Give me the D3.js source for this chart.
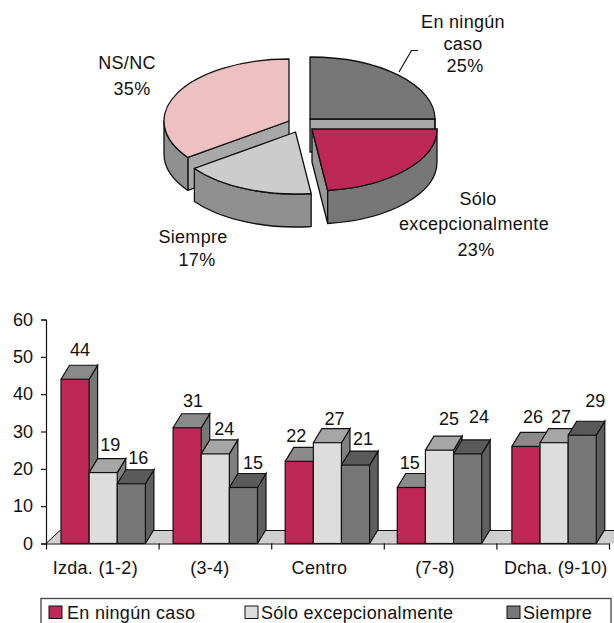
<!DOCTYPE html>
<html><head><meta charset="utf-8">
<script src="https://cdn.jsdelivr.net/npm/d3@7"></script>
<style>html,body{margin:0;padding:0;background:#fff}svg{display:block}text{font-family:"Liberation Sans",Arial,sans-serif;fill:#111}</style>
</head><body><svg id="c" width="614" height="623"></svg>
<script>
// pie data
const pieLabels = ["En ningún caso","Sólo excepcionalmente","Siempre","NS/NC"];
const pieValues = [25,23,17,35];
// bar data
const categories = ["Izda. (1-2)","(3-4)","Centro","(7-8)","Dcha. (9-10)"];
const seriesNames = ["En ningún caso","Sólo excepcionalmente","Siempre"];
const enNingunCaso = [44,31,22,15,26];
const soloExcepcionalmente = [19,24,27,25,27];
const siempre = [16,15,21,24,29];
const yTicks = [0,10,20,30,40,50,60];

// styles & layout
const pieStyle = [
  {c:[310,119],top:"#777777",wall:"#777777",face:"#a8a8a8"},
  {c:[312,129],top:"#bf2758",wall:"#777777",face:"#999999"},
  {c:[295.5,132],top:"#cccccc",wall:"#909090",face:"#a8a8a8"},
  {c:[289,121],top:"#edc1c1",wall:"#909090",face:"#a8a8a8"}
];
const pieText = [
  {l:["En ningún","caso","25%"],x:[463,463,465],y:[22,44,66]},
  {l:["Sólo","excepcionalmente","23%"],x:[478,474,476],y:[199,224,250]},
  {l:["Siempre","17%"],x:[193,197],y:[237,260]},
  {l:["NS/NC","35%"],x:[127,132],y:[63,89]}
];
const barStyle = [
  {front:"#bf2758",top:"#8a8a8a",side:"#777777"},
  {front:"#dddddd",top:"#a6a6a6",side:"#808080"},
  {front:"#777777",top:"#5a5a5a",side:"#5f5f5f"}
];
const labelNudge = [
  [[5,-30],[7,-27.6],[7,-26]],
  [[5.4,-27],[8.4,-25],[9,-25]],
  [[-4,-26],[6,-24],[6.5,-26]],
  [[-3,-25],[8,-31],[10,-37]],
  [[7.6,-30],[7.3,-26],[13.6,-35]]
];
const catNudge = [-7,-5,-8,-5,3];
const groupNudge = [0,-0.5,-1,-1.5,0.5];

const svg = d3.select("#c");
const FS = 18, LS = "0.3px";
const rx=125, ry=62, depth=33;
const stroke="#111";

// ---- PIE ----
const arcs = d3.pie().sort(null).value(d=>d)(pieValues);
const P = (c,a,dy=0)=>[c[0]+rx*Math.sin(a), c[1]-ry*Math.cos(a)+dy];
const gPie = svg.append("g");
const drawOrder=[3,0,1,2];
drawOrder.forEach(i=>{
  const a=arcs[i], s=pieStyle[i], c=s.c;
  const st=a.startAngle, en=a.endAngle;
  [[st,st-Math.PI/2],[en,en+Math.PI/2]].forEach(([th,n])=>{
    if(Math.cos(n)<-1e-6){
      const r=P(c,th), c2=[c[0],c[1]+depth], r2=[r[0],r[1]+depth];
      gPie.append("path").attr("d",`M${c}L${r}L${r2}L${c2}Z`)
        .attr("fill",s.face).attr("stroke",stroke).attr("stroke-width",1.3).attr("stroke-linejoin","round");
    }
  });
  const a0=Math.max(st,Math.PI/2), a1=Math.min(en,3*Math.PI/2);
  if(a1>a0){
    const p0=P(c,a0),p1=P(c,a1),p2=P(c,a1,depth),p3=P(c,a0,depth);
    gPie.append("path").attr("d",`M${p0}A${rx} ${ry} 0 0 1 ${p1}L${p2}A${rx} ${ry} 0 0 0 ${p3}Z`)
      .attr("fill",s.wall).attr("stroke",stroke).attr("stroke-width",1.3).attr("stroke-linejoin","round");
  }
  const p0=P(c,st),p1=P(c,en),large=(en-st)>Math.PI?1:0;
  gPie.append("path").attr("d",`M${c}L${p0}A${rx} ${ry} 0 ${large} 1 ${p1}Z`)
    .attr("fill",s.top).attr("stroke",stroke).attr("stroke-width",1.3).attr("stroke-linejoin","round");
});
gPie.append("path").attr("d",d3.line()([[399,72],[411.5,50.5],[418,50.5]]))
  .attr("fill","none").attr("stroke",stroke).attr("stroke-width",1.2);
pieText.forEach(t=>t.l.forEach((s,j)=>{
  gPie.append("text").attr("x",t.x[j]).attr("y",t.y[j]).attr("dy","0.35em")
    .attr("text-anchor","middle").attr("font-size",FS).attr("letter-spacing",LS).text(s);
}));

// ---- BARS ----
const y=d3.scaleLinear().domain([0,60]).range([543.5,319.5]);
const x0=d3.scaleBand().domain(categories).range([46,609]);
const x1=d3.scaleBand().domain(seriesNames).range([15,99.4]);
const tickScale=d3.scaleLinear().domain([0,categories.length]).range([46,609]);
const series=[enNingunCaso,soloExcepcionalmente,siempre];
const dx=8.5, dyTop=14;
const gBar=svg.append("g");
gBar.append("path").attr("d",d3.line()([[46,y(0)],[60,y(0)-13],[640,y(0)-13],[626,y(0)]]))
  .attr("fill","#cfcfcf").attr("stroke",stroke).attr("stroke-width",1);
categories.forEach((cat,i)=>{
  seriesNames.forEach((sn,j)=>{
    const v=series[j][i], st=barStyle[j];
    const xl=x0(cat)+x1(sn)+groupNudge[i], w=x1.bandwidth(), yt=y(v), yb=y(0);
    gBar.append("path").attr("d",d3.line()([[xl+w,yt],[xl+w+dx,yt-dyTop],[xl+w+dx,yb-dyTop],[xl+w,yb]]))
      .attr("fill",st.side).attr("stroke",stroke).attr("stroke-width",1.2);
    gBar.append("path").attr("d",d3.line()([[xl,yt],[xl+dx,yt-dyTop],[xl+w+dx,yt-dyTop],[xl+w,yt]]))
      .attr("fill",st.top).attr("stroke",stroke).attr("stroke-width",1.2);
    gBar.append("rect").attr("x",xl).attr("y",yt).attr("width",w).attr("height",yb-yt)
      .attr("fill",st.front).attr("stroke",stroke).attr("stroke-width",1.2);
  });
});
categories.forEach((cat,i)=>{
  seriesNames.forEach((sn,j)=>{
    const v=series[j][i], n=labelNudge[i][j];
    gBar.append("text").attr("x",x0(cat)+x1(sn)+x1.bandwidth()/2+n[0]).attr("y",y(v)+n[1])
      .attr("dy","0.35em").attr("text-anchor","middle").attr("font-size",FS).text(v);
  });
  gBar.append("text").attr("x",x0(cat)+x0.bandwidth()/2+catNudge[i]).attr("y",568).attr("dy","0.35em")
    .attr("text-anchor","middle").attr("font-size",FS).attr("letter-spacing",LS).text(cat);
});
const ay=svg.append("g").attr("transform","translate(46,0)")
  .call(d3.axisLeft(y).tickValues(yTicks).tickSize(5).tickPadding(8).tickFormat(d3.format("d")));
const ax=svg.append("g").attr("transform",`translate(0,${y(0)})`)
  .call(d3.axisBottom(tickScale).ticks(categories.length).tickSize(6).tickSizeOuter(0).tickFormat(""));
[ay,ax].forEach(g=>{
  g.selectAll("path,line").attr("stroke",stroke).attr("stroke-width",1.2);
  g.selectAll("text").attr("font-size",FS).attr("font-family",'"Liberation Sans",Arial,sans-serif').attr("fill","#111");
});

// ---- LEGEND ----
const gLeg=svg.append("g");
gLeg.append("rect").attr("x",41).attr("y",598.5).attr("width",570).attr("height",40)
  .attr("fill","none").attr("stroke","#444").attr("stroke-width",1.3);
const legX=[49,245,507];
seriesNames.forEach((sn,j)=>{
  gLeg.append("rect").attr("x",legX[j]).attr("y",606).attr("width",13).attr("height",12.5)
    .attr("fill",barStyle[j].front).attr("stroke",stroke).attr("stroke-width",1);
  gLeg.append("text").attr("x",legX[j]+(j==0?18:16)).attr("y",613).attr("dy","0.35em").attr("font-size",FS).attr("letter-spacing",LS).text(sn);
});
</script></body></html>
